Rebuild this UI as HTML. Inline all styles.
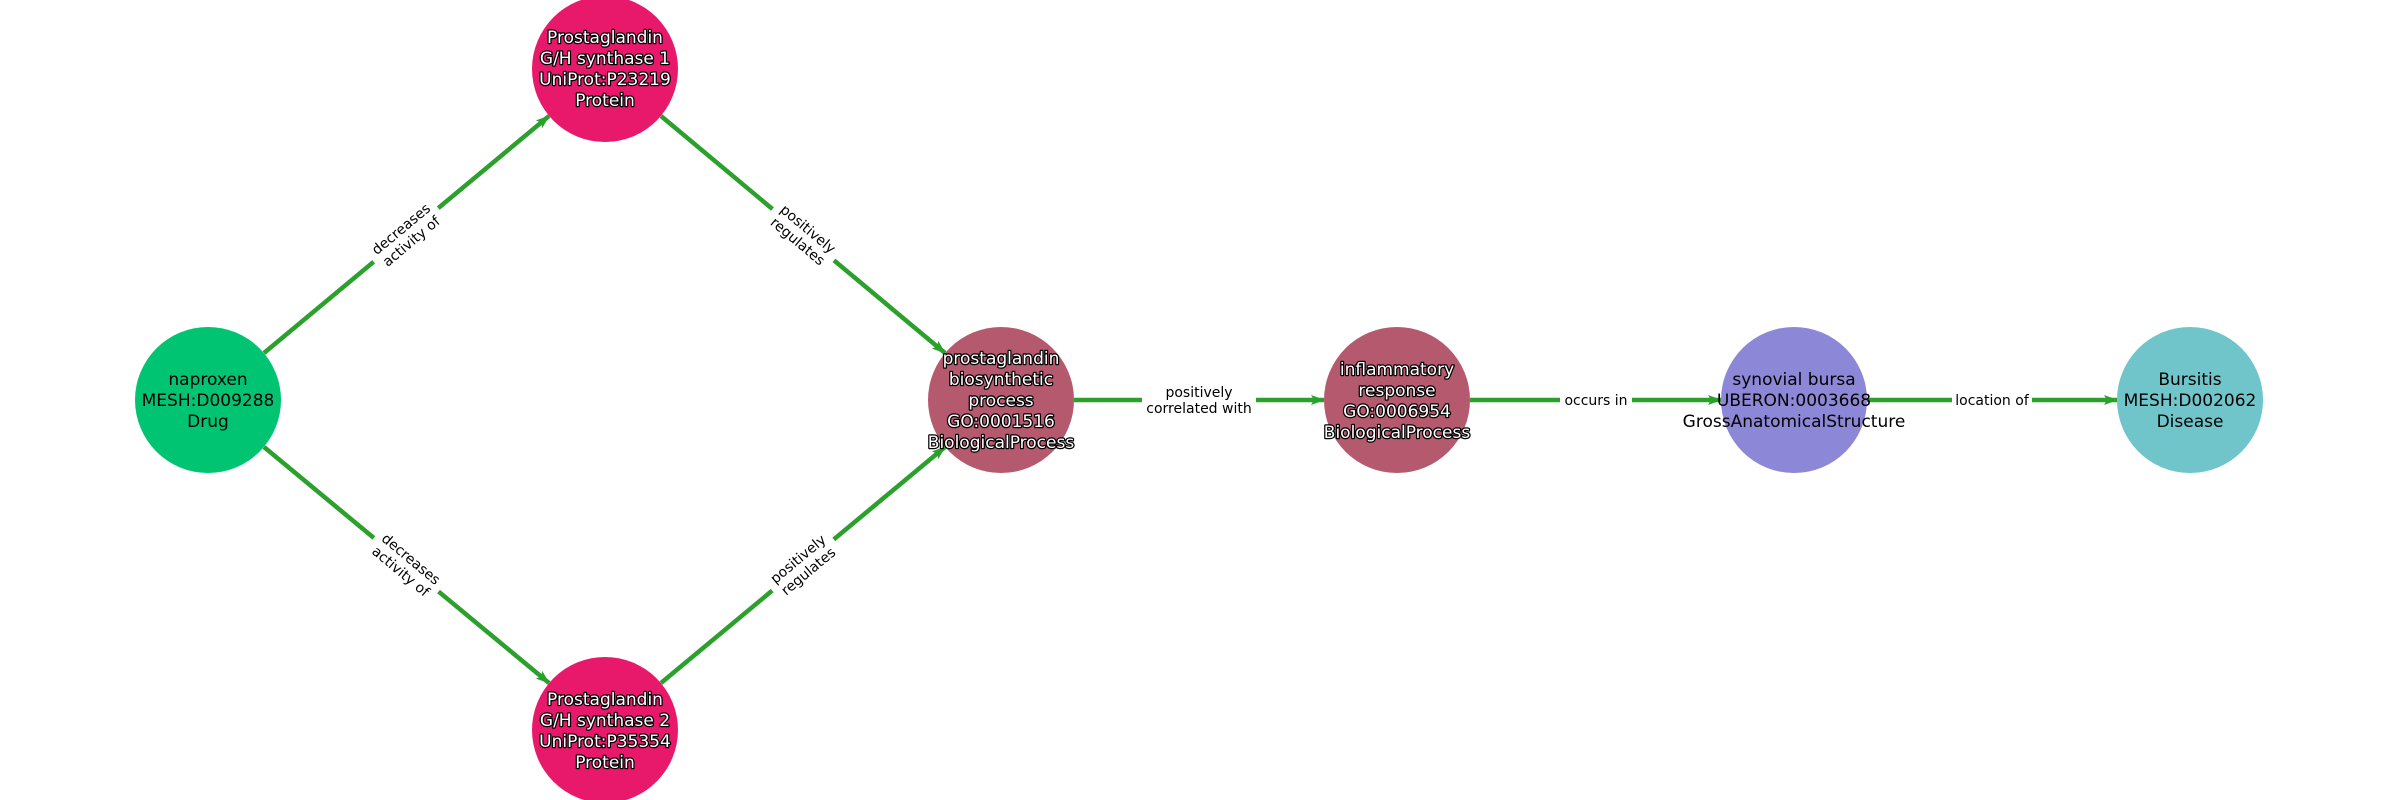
<!DOCTYPE html>
<html><head><meta charset="utf-8"><style>
html,body{margin:0;padding:0;background:#fff;}
svg{display:block;}
.n{font-family:"DejaVu Sans","Liberation Sans",sans-serif;font-size:17px;text-anchor:middle;}
.w{fill:#fff;stroke:#000;stroke-width:2.5px;paint-order:stroke;stroke-linejoin:round;}
.b{fill:#000;}
.e{font-family:"DejaVu Sans","Liberation Sans",sans-serif;font-size:14px;text-anchor:middle;fill:#000;}
</style></head><body>
<svg width="2400" height="800" viewBox="0 0 2400 800" xmlns="http://www.w3.org/2000/svg">
<defs>
<marker id="a" markerWidth="14" markerHeight="10" refX="13" refY="5" orient="auto" markerUnits="userSpaceOnUse">
<path d="M0,0 L14,5 L0,10 L3,5 Z" fill="#2ca02c"/>
</marker>
</defs>
<g stroke="#2ca02c" stroke-width="4.5" fill="none" marker-end="url(#a)">
<line x1="264" y1="353" x2="549" y2="116"/>
<line x1="264" y1="447" x2="549" y2="683"/>
<line x1="661" y1="116" x2="945" y2="353"/>
<line x1="661" y1="683" x2="945" y2="447"/>
<line x1="1074" y1="400" x2="1324" y2="400"/>
<line x1="1470" y1="400" x2="1721" y2="400"/>
<line x1="1867" y1="400" x2="2117" y2="400"/>
</g>
<!-- edge labels -->
<g transform="translate(406,235) rotate(-39.8)">
<rect x="-42" y="-19" width="84" height="38" fill="#fff"/>
<text class="e" y="-3">decreases</text><text class="e" y="13">activity of</text></g>
<g transform="translate(406,565) rotate(39.8)">
<rect x="-42" y="-19" width="84" height="38" fill="#fff"/>
<text class="e" y="-3">decreases</text><text class="e" y="13">activity of</text></g>
<g transform="translate(803,235) rotate(39.9)">
<rect x="-40" y="-19" width="80" height="38" fill="#fff"/>
<text class="e" y="-3">positively</text><text class="e" y="13">regulates</text></g>
<g transform="translate(803,565) rotate(-39.9)">
<rect x="-40" y="-19" width="80" height="38" fill="#fff"/>
<text class="e" y="-3">positively</text><text class="e" y="13">regulates</text></g>
<g transform="translate(1199,400)">
<rect x="-57" y="-19" width="114" height="38" fill="#fff"/>
<text class="e" y="-3">positively</text><text class="e" y="13">correlated with</text></g>
<g transform="translate(1596,400)">
<rect x="-36" y="-10" width="72" height="20" fill="#fff"/>
<text class="e" y="5">occurs in</text></g>
<g transform="translate(1992,400)">
<rect x="-40" y="-10" width="80" height="20" fill="#fff"/>
<text class="e" y="5">location of</text></g>
<!-- nodes -->
<circle cx="208" cy="400" r="73" fill="#00c472"/>
<circle cx="605" cy="69" r="73" fill="#e8196a"/>
<circle cx="605" cy="730" r="73" fill="#e8196a"/>
<circle cx="1001" cy="400" r="73" fill="#b5596e"/>
<circle cx="1397" cy="400" r="73" fill="#b5596e"/>
<circle cx="1794" cy="400" r="73" fill="#8c87d6"/>
<circle cx="2190" cy="400" r="73" fill="#6fc5c9"/>
<g class="n b"><text x="208" y="385">naproxen</text><text x="208" y="406">MESH:D009288</text><text x="208" y="427">Drug</text></g>
<g class="n w"><text x="605" y="43">Prostaglandin</text><text x="605" y="64">G/H synthase 1</text><text x="605" y="85">UniProt:P23219</text><text x="605" y="106">Protein</text></g>
<g class="n w"><text x="605" y="705">Prostaglandin</text><text x="605" y="726">G/H synthase 2</text><text x="605" y="747">UniProt:P35354</text><text x="605" y="768">Protein</text></g>
<g class="n w"><text x="1001" y="364">prostaglandin</text><text x="1001" y="385">biosynthetic</text><text x="1001" y="406">process</text><text x="1001" y="427">GO:0001516</text><text x="1001" y="448">BiologicalProcess</text></g>
<g class="n w"><text x="1397" y="375">inflammatory</text><text x="1397" y="396">response</text><text x="1397" y="417">GO:0006954</text><text x="1397" y="438">BiologicalProcess</text></g>
<g class="n b"><text x="1794" y="385">synovial bursa</text><text x="1794" y="406">UBERON:0003668</text><text x="1794" y="427">GrossAnatomicalStructure</text></g>
<g class="n b"><text x="2190" y="385">Bursitis</text><text x="2190" y="406">MESH:D002062</text><text x="2190" y="427">Disease</text></g>
</svg>
</body></html>
